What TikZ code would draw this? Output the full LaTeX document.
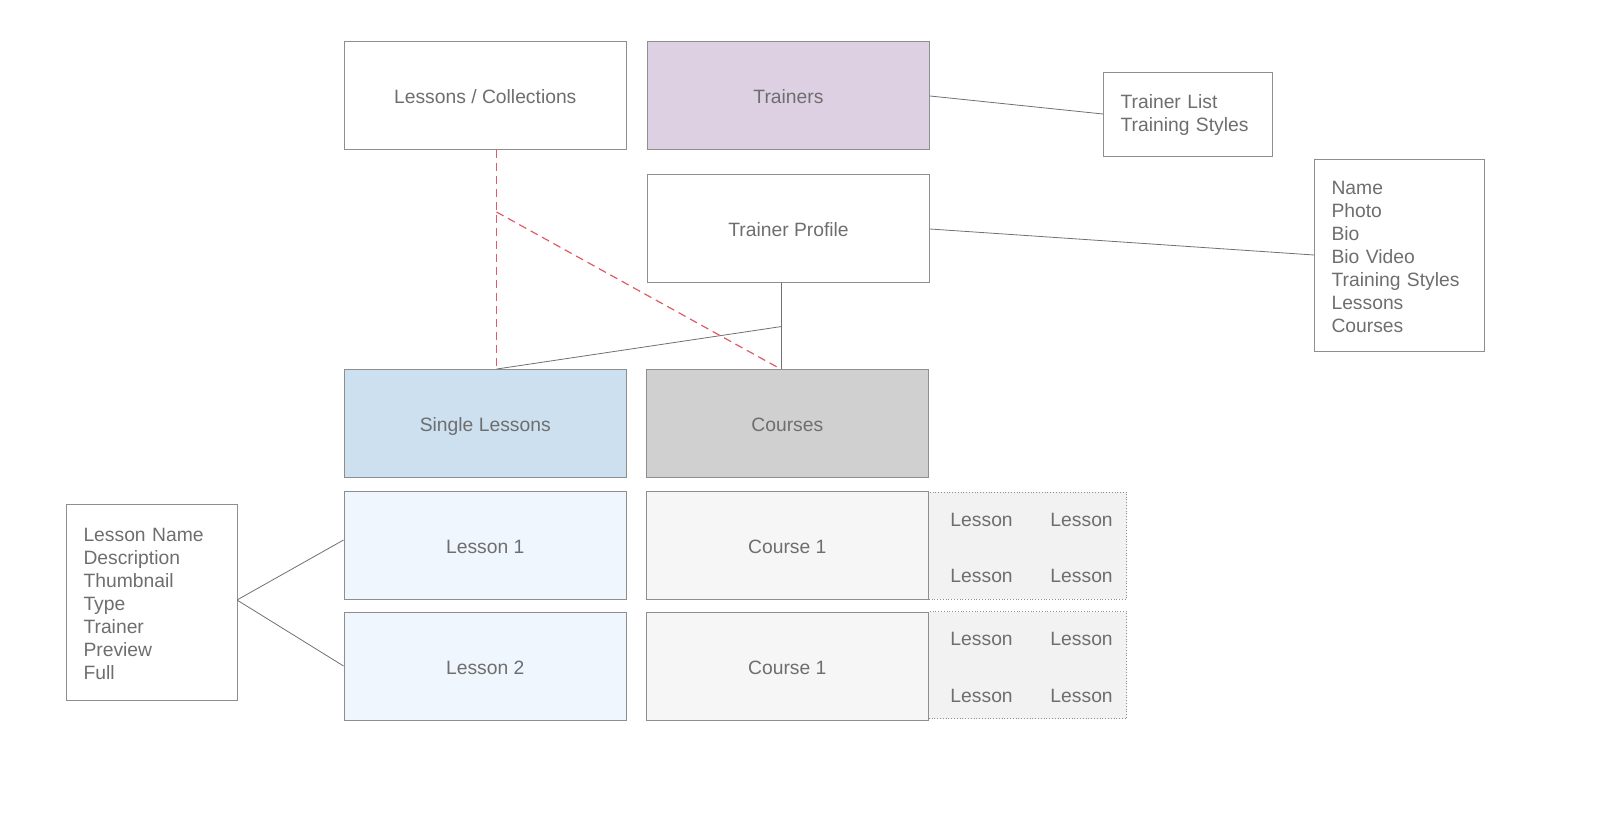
\documentclass[tikz,border=0pt]{standalone}
\usepackage{fontspec}
\setmainfont{Liberation Sans}
\definecolor{txt}{HTML}{6E6E6E}
\definecolor{bord}{HTML}{8E8E8E}
\definecolor{conn}{HTML}{707070}
\definecolor{redd}{HTML}{E05A66}
\definecolor{purp}{HTML}{DDD0E3}
\definecolor{blu}{HTML}{CCE0F0}
\definecolor{gry}{HTML}{D0D0D0}
\definecolor{lblu}{HTML}{F0F6FD}
\definecolor{lgry}{HTML}{F6F6F6}
\definecolor{grid}{HTML}{F2F2F2}
\begin{document}
\begin{tikzpicture}[x=1pt,y=-1pt,
  box/.style={draw=bord, line width=0.9pt, rectangle, text=txt,
    font=\fontsize{19.3}{23.1}\selectfont, inner sep=0pt},
  mainbox/.style={box, minimum width=282.5pt, minimum height=107.5pt, text height=16pt, text depth=0pt},
  listbox/.style={box, align=left, inner xsep=17.5pt},
  gridbox/.style={draw=bord, line width=0.8pt, dotted, fill=grid, minimum width=198pt, minimum height=107pt, inner sep=0pt},
  cell/.style={text=txt, font=\fontsize{19.3}{23.1}\selectfont, inner sep=0pt},
  link/.style={draw=conn, line width=0.8pt},
  redlink/.style={draw=redd, line width=1.2pt, dash pattern=on 8pt off 5pt}]
\useasboundingbox (0,0) rectangle (1600,827);

% top row
\node[mainbox] (lc) at (485.25,95.5) {Lessons / Collections};
\node[mainbox, fill=purp] (tr) at (788.5,95.5) {Trainers};
\node[listbox, minimum width=169pt, minimum height=83.5pt, text width=134pt] (tl) at (1187.5,114.25) {\rule{0pt}{15.5pt}Trainer List\\Training Styles};

% trainer profile
\node[mainbox] (tp) at (788.5,228.5) {Trainer Profile};
\node[listbox, minimum width=170pt, minimum height=192pt, text width=135pt] (nm) at (1399,255) {\rule{0pt}{17pt}Name\\Photo\\Bio\\Bio Video\\Training Styles\\Lessons\\Courses};

% categories
\node[mainbox, fill=blu] (sl) at (485.25,423.25) {Single Lessons};
\node[mainbox, fill=gry] (cs) at (787.3,423.25) {Courses};

% items
\node[mainbox, fill=lblu] (l1) at (485.25,545.5) {Lesson 1};
\node[mainbox, fill=lgry] (c1) at (787.3,545.5) {Course 1};
\node[gridbox] (g1) at (1027.8,545.5) {};
\node[mainbox, fill=lblu] (l2) at (485.25,666.5) {Lesson 2};
\node[mainbox, fill=lgry] (c2) at (787.3,666.5) {Course 1};
\node[gridbox] (g2) at (1027.8,665) {};

\node[cell] (g1a) at (981.6,520) {Lesson};
\node[cell] (g1b) at (1081.6,520) {Lesson};
\node[cell] (g1c) at (981.6,576) {Lesson};
\node[cell] (g1d) at (1081.6,576) {Lesson};
\node[cell] (g2a) at (981.6,638.5) {Lesson};
\node[cell] (g2b) at (1081.6,638.5) {Lesson};
\node[cell] (g2c) at (981.6,695.5) {Lesson};
\node[cell] (g2d) at (1081.6,695.5) {Lesson};

\node[listbox, minimum width=171pt, minimum height=196pt, text width=136pt] (ln) at (151.5,602) {\rule{0pt}{17pt}Lesson Name\\Description\\Thumbnail\\Type\\Trainer\\Preview\\Full};

% connectors
\coordinate (trp) at (930,96);
\coordinate (tlp) at (1103,114);
\draw[link] (trp) -- (tlp);
\coordinate (tpp) at (930,229);
\coordinate (nmp) at (1314,255);
\draw[link] (tpp) -- (nmp);

\coordinate (j) at (781.6,326.5);
\coordinate (slx) at (496.5,369);
\draw[link] (tp.south -| j) -- (cs.north -| j);
\draw[link] (j) -- (sl.north -| slx);

\coordinate (rd) at (496.5,212);
\coordinate (rend) at (777,367);
\draw[redlink] (lc.south -| rd) -- (sl.north -| rd);
\draw[redlink] (rd) -- (rend);

\coordinate (lnp) at (237,600);
\draw[link] (lnp) -- (l1.west |- 0,540);
\draw[link] (lnp) -- (l2.west |- 0,666);
\end{tikzpicture}
\end{document}
